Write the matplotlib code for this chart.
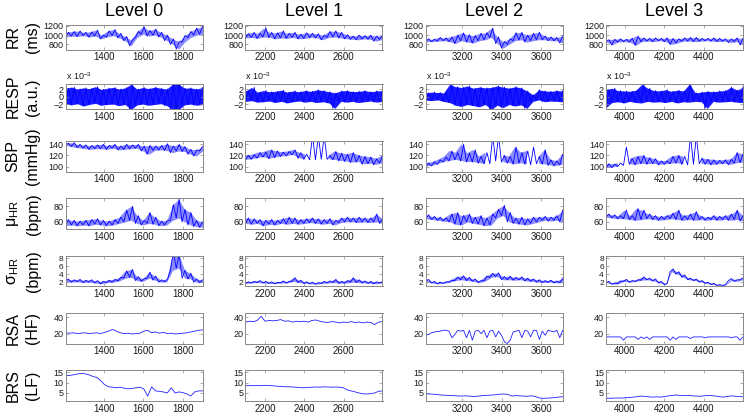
import numpy as np
import matplotlib
matplotlib.use('Agg')
import matplotlib.pyplot as plt

plt.rcParams['font.family'] = ['Liberation Sans', 'DejaVu Sans']
plt.rcParams['mathtext.fontset'] = 'custom'
plt.rcParams['mathtext.rm'] = 'Liberation Sans'

# time span of each level (s)
T_START = [1205, 2100, 3015, 3905]
T_END = [1900, 2797, 3710, 4600]
LEVELS = ['Level 0', 'Level 1', 'Level 2', 'Level 3']
XTICKS = [[1400, 1600, 1800], [2200, 2400, 2600], [3200, 3400, 3600], [4000, 4200, 4400]]

# noisy signals: values alternate low / high of the trace
# RR (ms)
RR0 = [960, 1060, 980, 1080, 970, 1090, 990, 1060, 960, 1070, 980, 1110, 920, 1000, 960, 1090,
       990, 1120, 940, 1040, 880, 970, 770, 900, 950, 1080, 1020, 1180, 980, 1100, 1000, 1130,
       960, 1060, 880, 1000, 800, 920, 700, 860, 850, 990, 950, 1080, 1000, 1150, 1020, 1180]
RR1 = [940, 1030, 950, 1060, 930, 1040, 960, 1150, 950, 1060, 920, 1050, 940, 1090, 930, 1040,
       950, 1060, 920, 1020, 930, 1050, 950, 1040, 940, 1030, 900, 1000, 950, 1080, 960, 1090,
       940, 1060, 920, 1010, 910, 980, 900, 1000, 920, 990, 910, 1000, 870, 980, 910, 990]
RR2 = [860, 920, 860, 910, 870, 950, 880, 940, 860, 960, 820, 1000, 880, 1050, 850, 1010,
       830, 990, 880, 1040, 900, 1050, 950, 1150, 820, 960, 720, 860, 800, 920, 880, 1050,
       900, 1060, 850, 1000, 880, 1040, 900, 1060, 900, 980, 880, 960, 880, 950, 830, 980]
RR3 = [860, 900, 790, 910, 850, 920, 860, 910, 850, 930, 780, 980, 860, 940, 870, 930,
       860, 940, 880, 930, 860, 940, 800, 930, 830, 920, 870, 940, 870, 950, 860, 950,
       870, 930, 880, 930, 870, 940, 860, 930, 870, 920, 840, 920, 860, 940, 790, 930]

# RESP (a.u., x 10^-3)
RESP0 = [-1.9, 2.2, -2.1, 2.5, -1.8, 2.0, -2.4, 2.3, -2.0, 2.1, -1.7, 2.6, -2.2, 1.9, -2.0, 2.2,
         -1.9, 2.4, -2.3, 2.0, -2.0, 2.3, -3.3, 3.2, -2.1, 2.0, -1.9, 2.4, -2.2, 2.1, -2.0, 2.5,
         -1.8, 2.2, -2.3, 2.0, -3.3, 3.3, -3.3, 3.3, -2.1, 2.2, -1.9, 2.3, -2.2, 2.0, -2.0, 2.4]
RESP1 = [-1.2, 1.5, -1.0, 2.4, -1.4, 1.2, -1.3, 1.6, -1.1, 1.3, -1.5, 1.4, -1.2, 1.7, -1.6, 1.2,
         -1.3, 1.5, -1.1, 1.3, -1.4, 1.6, -1.2, 1.4, -1.5, 1.8, -1.3, 1.6, -1.6, 1.3, -3.0, 1.0,
         -1.2, 1.5, -1.4, 1.6, -1.2, 1.3, -1.5, 1.4, -1.3, 1.6, -1.1, 1.3, -1.4, 1.5, -1.2, 1.6]
RESP2 = [-0.9, 1.0, -1.0, 1.2, -0.8, 1.1, -1.2, 1.0, -1.5, 3.2, -2.2, 2.6, -2.5, 2.4, -2.0, 2.8,
         -2.3, 2.2, -2.6, 2.5, -2.0, 2.3, -3.3, 2.4, -2.2, 2.8, -2.8, 2.5, -2.0, 2.2, -2.4, 2.6,
         -2.1, 2.3, -3.0, 1.5, -1.2, 0.5, -0.8, 1.8, -1.3, 1.5, -1.1, 1.4, -1.2, 1.6, -1.3, 1.5]
RESP3 = [-2.8, 1.8, -1.5, 2.2, -1.3, 1.6, -1.6, 1.5, -1.2, 1.4, -1.5, 1.7, -1.6, 3.2, -1.2, 2.2,
         -1.4, 1.6, -1.3, 1.5, -1.5, 1.8, -1.2, 1.4, -1.6, 1.7, -1.3, 1.5, -1.4, 3.3, -1.2, 1.0,
         -1.3, 1.2, -3.0, 1.4, -1.2, 1.3, -1.4, 1.5, -1.3, 1.6, -1.2, 2.5, -1.4, 1.7, -1.5, 2.5]

# SBP (mmHg)
SBP0 = [138, 142, 136, 143, 134, 140, 133, 139, 131, 138, 132, 139, 132, 140, 131, 138,
        133, 140, 130, 137, 131, 140, 132, 139, 133, 140, 128, 137, 122, 138, 129, 137,
        130, 138, 129, 141, 125, 137, 128, 140, 127, 136, 122, 131, 119, 130, 128, 136]
SBP1 = [112, 120, 113, 121, 115, 125, 117, 126, 114, 130, 116, 128, 118, 126, 119, 127,
        121, 130, 115, 125, 113, 122, 112, 155, 112, 155, 113, 155, 113, 120, 112, 127,
        110, 124, 109, 122, 107, 125, 108, 120, 104, 118, 105, 117, 103, 114, 106, 120]
SBP2 = [100, 106, 101, 108, 104, 112, 108, 117, 110, 128, 112, 125, 110, 140, 108, 124,
        108, 130, 106, 118, 105, 125, 105, 155, 110, 155, 108, 120, 106, 118, 104, 135,
        106, 125, 104, 128, 103, 135, 105, 118, 104, 130, 102, 112, 101, 110, 103, 122]
SBP3 = [97, 105, 98, 104, 100, 106, 102, 135, 104, 114, 103, 118, 105, 120, 104, 116,
        105, 114, 103, 110, 104, 110, 105, 118, 106, 120, 104, 118, 103, 155, 104, 155,
        105, 115, 104, 113, 103, 112, 104, 111, 105, 112, 103, 113, 106, 125, 107, 122]

# mean HR (bpm)
HR0 = [55, 63, 56, 62, 55, 61, 56, 62, 55, 63, 57, 64, 56, 62, 55, 61,
       56, 63, 58, 66, 60, 75, 62, 80, 58, 68, 56, 62, 58, 72, 57, 66,
       55, 61, 56, 62, 62, 82, 65, 89, 60, 76, 56, 72, 54, 62, 53, 60]
HR1 = [58, 65, 57, 64, 58, 63, 55, 62, 57, 63, 56, 62, 58, 64, 57, 66,
       58, 65, 57, 63, 58, 64, 59, 65, 58, 64, 57, 63, 58, 64, 56, 62,
       59, 65, 60, 66, 60, 65, 59, 66, 60, 65, 59, 65, 60, 70, 58, 64]
HR2 = [64, 69, 63, 67, 62, 66, 61, 65, 60, 70, 57, 72, 56, 68, 60, 70,
       58, 66, 57, 68, 55, 65, 56, 70, 65, 76, 68, 81, 60, 72, 58, 65,
       57, 66, 56, 64, 58, 66, 60, 66, 62, 67, 61, 66, 62, 68, 60, 75]
HR3 = [66, 70, 65, 69, 64, 68, 64, 75, 63, 68, 62, 77, 63, 75, 64, 70,
       63, 68, 62, 67, 63, 68, 64, 71, 63, 75, 62, 68, 63, 70, 62, 73,
       63, 67, 62, 66, 63, 68, 62, 67, 63, 68, 62, 70, 63, 75, 61, 68]

# sd HR (bpm)
SD0 = [2.2, 2.8, 2.0, 2.6, 2.1, 2.7, 1.9, 2.5, 2.0, 2.6, 1.8, 2.4, 1.6, 2.2, 1.9, 2.5,
       2.0, 2.7, 2.3, 3.2, 3.0, 4.8, 3.2, 5.2, 2.4, 3.4, 2.2, 2.9, 3.0, 4.5, 2.5, 3.5,
       2.0, 2.6, 2.1, 2.8, 5.0, 9.5, 5.5, 9.0, 3.0, 5.0, 2.8, 4.2, 2.0, 2.8, 1.9, 2.6]
SD1 = [1.7, 2.1, 1.8, 2.2, 1.9, 2.4, 1.8, 2.2, 1.7, 2.1, 1.6, 2.0, 1.8, 2.3, 1.8, 2.2,
       2.2, 3.1, 1.9, 2.5, 1.7, 2.1, 1.6, 2.0, 1.5, 1.9, 1.7, 2.2, 1.8, 2.3, 1.9, 2.7,
       1.7, 2.2, 1.8, 2.4, 2.0, 3.1, 1.9, 2.6, 1.8, 2.3, 1.7, 2.2, 1.6, 2.1, 1.8, 2.2]
SD2 = [2.2, 2.7, 1.8, 2.2, 1.6, 2.0, 1.7, 2.1, 2.0, 2.5, 2.4, 3.3, 2.6, 3.6, 2.4, 3.2,
       2.2, 2.8, 1.9, 2.4, 2.3, 3.5, 3.2, 4.2, 3.4, 4.3, 2.6, 3.4, 2.6, 3.5, 2.5, 3.2,
       2.6, 3.3, 2.3, 3.0, 2.2, 2.8, 2.0, 2.6, 1.9, 2.4, 2.0, 2.5, 1.8, 2.3, 1.9, 3.0]
SD3 = [1.9, 2.2, 1.5, 1.8, 1.6, 2.3, 2.2, 2.7, 2.0, 2.4, 2.2, 2.6, 2.5, 3.3, 2.6, 3.0,
       2.3, 2.8, 1.8, 2.2, 1.4, 1.7, 4.6, 5.3, 4.0, 4.6, 3.2, 3.8, 2.6, 3.0, 2.4, 2.8,
       2.0, 2.4, 1.7, 2.0, 1.4, 1.7, 1.2, 1.4, 1.2, 1.4, 2.4, 2.9, 2.2, 2.6, 2.6, 3.1]

# smooth signals
# RSA (HF)
RSA0 = [21, 20.5, 21, 20, 20.5, 21, 20, 20.5, 21, 20, 21.5, 23, 25, 23, 21, 20, 20.5, 19.5,
        20, 20.5, 23, 24, 21, 22, 20.5, 21.5, 20, 20.5, 19.5, 20, 20.5, 21, 22, 23, 24, 24.5]
RSA1 = [34, 35, 34.5, 36, 41, 35, 36, 35.5, 36, 37, 35, 35.5, 34, 35, 34.5, 35, 34, 36,
        36.5, 35, 34, 33.5, 34.5, 34, 33, 34, 33.5, 34.5, 33.5, 34, 33, 34, 33.5, 31, 34, 34.5]
RSA2 = [18, 19, 21, 22, 22.5, 23, 24, 24, 23, 15, 19, 24, 23, 24, 15, 24, 12, 23, 24, 20, 24, 15, 23, 24,
        16, 23, 18, 10, 8, 12, 22, 23, 24, 15, 24, 23, 16, 24, 24, 13, 23, 18, 24, 23, 22, 24, 15, 24]
RSA3 = [16, 16, 16, 16, 16, 16, 12, 16, 16, 16, 16, 13, 16, 14, 16, 13, 16, 16, 16, 16, 16, 16, 12, 16,
        13, 16, 16, 16, 16, 14, 16, 16, 16, 16, 15, 16, 16, 16, 16, 16, 16, 16, 16, 15, 16, 16, 12, 16]

# BRS (LF)
BRS0 = [13.5, 13.5, 13.8, 14.2, 14.5, 14.3, 13.8, 13.0, 12.5, 11.0, 9.0, 8.0, 7.8, 7.5, 7.8, 7.3, 7.0, 7.2,
        7.5, 7.8, 7.0, 3.5, 8.0, 6.0, 5.8, 5.5, 5.0, 7.5, 5.0, 5.5, 5.2, 4.5, 3.5, 5.5, 6.0, 6.0]
BRS1 = [8.5, 8.6, 8.5, 8.6, 8.5, 8.7, 8.6, 8.5, 8.3, 8.2, 8.0, 8.0, 7.9, 7.8, 7.6, 7.5, 7.7, 7.8,
        7.9, 7.8, 8.0, 7.9, 7.8, 7.9, 7.8, 7.5, 6.5, 6.0, 5.5, 5.0, 4.6, 4.5, 4.7, 5.0, 5.8, 6.0]
BRS2 = [4.6, 4.5, 4.4, 4.2, 4.0, 3.9, 3.8, 3.7, 3.6, 3.5, 3.6, 3.5, 3.3, 3.4, 3.6, 3.8, 3.9, 4.0,
        4.2, 4.4, 4.5, 4.3, 3.5, 3.7, 3.6, 3.5, 3.4, 3.6, 3.3, 2.6, 2.4, 2.5, 2.6, 2.8, 3.0, 3.2]
BRS3 = [2.5, 2.4, 2.5, 2.6, 2.5, 2.7, 2.8, 3.0, 3.2, 3.5, 3.3, 3.1, 3.0, 3.1, 3.0, 3.3, 3.6, 3.8,
        4.0, 3.8, 3.7, 3.8, 3.6, 3.5, 3.4, 3.6, 3.8, 3.7, 3.5, 3.2, 3.0, 3.3, 3.6, 3.4, 3.3, 3.2]

# label, series, ylim, yticks, band opacity (None = plain line), widest swing shaded
ROWS = [
    ('RR\n(ms)', [RR0, RR1, RR2, RR3], (690, 1230), [800, 1000, 1200], 0.45, None),
    ('RESP\n(a.u.)', [RESP0, RESP1, RESP2, RESP3], (-3.3, 3.3), [-2, 0, 2], 0.9, None),
    ('SBP\n(mmHg)', [SBP0, SBP1, SBP2, SBP3], (91, 146), [100, 120, 140], 0.45, 32),
    ('μ$_{\\mathregular{HR}}$\n(bpm)', [HR0, HR1, HR2, HR3], (51, 90), [60, 80], 0.45, None),
    ('σ$_{\\mathregular{HR}}$\n(bpm)', [SD0, SD1, SD2, SD3], (1, 8.6), [2, 4, 6, 8], 0.45, None),
    ('RSA\n(HF)', [RSA0, RSA1, RSA2, RSA3], (8, 45), [20, 40], None, None),
    ('BRS\n(LF)', [BRS0, BRS1, BRS2, BRS3], (1.2, 16), [5, 10, 15], None, None),
]

W, H = 747, 417
fig = plt.figure(figsize=(W / 100, H / 100), dpi=100)

col_left = [65.5, 245.5, 425.7, 606]
ax_w = 137
row_top = [24.5, 84, 141, 198.4, 255.7, 313, 370.3]
row_h = [25, 25.5, 30.5, 30.5, 30.5, 30.5, 30.5]

for r, (label, series, ylim, yticks, band, max_swing) in enumerate(ROWS):
    ax_h = row_h[r]
    for c in range(4):
        ax = fig.add_axes([col_left[c] / W, 1 - (row_top[r] + ax_h) / H, ax_w / W, ax_h / H])
        y = np.array(series[c])
        t = np.linspace(T_START[c], T_END[c], len(y))
        if band is not None:
            # light band between the low and high swings, trace on top
            tp = np.linspace(T_START[c], T_END[c], len(y) // 2)
            lo, hi = y[0::2], y[1::2]
            where = None if max_swing is None else (hi - lo) < max_swing
            ax.fill_between(tp, lo, hi, where=where, color='#0000ff', alpha=band, lw=0)
            ax.plot(t, y, color='#0000ff', lw=0.6)
        else:
            ax.plot(t, y, color='#2020ff', lw=0.6)
        ax.set_xlim(T_START[c], T_END[c])
        ax.set_ylim(*ylim)
        ax.set_xticks(XTICKS[c])
        ax.set_yticks(yticks)
        ax.tick_params(direction='in', top=True, right=True, length=2, width=0.5,
                       labelsize=7, pad=2, colors='#888888', labelcolor='#1a1a1a')
        ax.tick_params(axis='y', labelsize=6.5 if len(yticks) < 4 else 6.0, pad=1.5)
        for s in ax.spines.values():
            s.set_color('#888888')
            s.set_linewidth(0.7)
        if r == 1:
            ax.text(0, 1.08, 'x 10$^{-3}$', transform=ax.transAxes, fontsize=6.5,
                    va='bottom', ha='left', color='#1a1a1a')
        if r == 0:
            fig.text((col_left[c] + ax_w / 2) / W, 1 - 12 / H, LEVELS[c],
                     fontsize=13, ha='center', va='center')
    yc = row_top[r] + ax_h / 2
    fig.text(23 / W, 1 - yc / H, label, rotation=90, ha='center', va='center',
             fontsize=11.5, linespacing=1.4)

fig.savefig('out.png', dpi=100)
